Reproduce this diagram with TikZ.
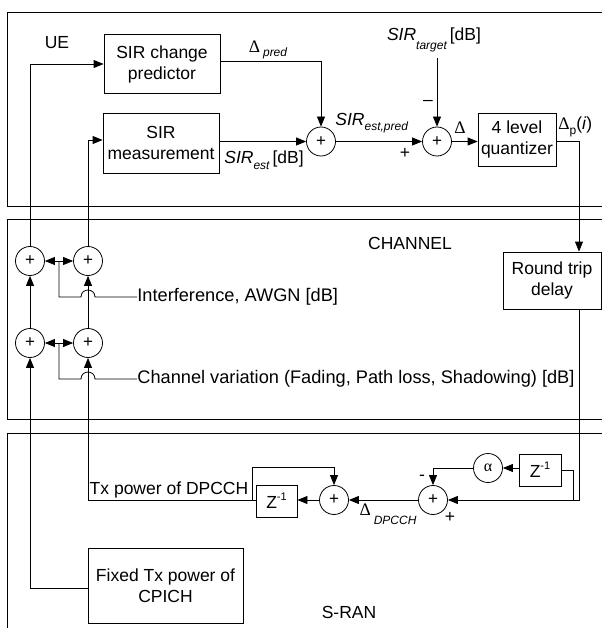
\documentclass[tikz,border=0pt]{standalone}
\usepackage{fontspec}
\setmainfont{Liberation Sans}
\newfontfamily\grk{Liberation Serif}
\usetikzlibrary{arrows.meta}

% lowered italic subscript and raised exponent
\newcommand{\lo}[2][0.45ex]{\raisebox{-#1}{\fontsize{12}{12}\selectfont\itshape #2}}
\newcommand{\hi}[1]{\raisebox{0.85ex}{\fontsize{11}{11}\selectfont #1}}
\newcommand{\Dl}{{\grk Δ}}

\begin{document}
\begin{tikzpicture}[x=1pt,y=-1pt,
  font=\fontsize{17.5}{21}\selectfont,
  line width=0.8pt,
  arr/.style={-{Triangle[length=10pt,width=8pt]}},
  birr/.style={{Triangle[length=10pt,width=8pt]}-{Triangle[length=10pt,width=8pt]}},
  blk/.style={draw, align=center, inner sep=1pt},
  sumr/.style={draw, circle, minimum size=29pt, inner sep=0pt,
    font=\fontsize{17}{17}\selectfont},
  lbl/.style={inner sep=0pt},
  wide/.style={font=\fontsize{18.2}{21}\selectfont}
]
\useasboundingbox (0,0) rectangle (602,628);

% ---- panels ----
\draw (602,12) -- (7,12) -- (7,206) -- (602,206);
\draw (602,219) -- (7,219) -- (7,419) -- (602,419);
\draw (602,433) -- (7,433) -- (7,628);

% ---- UE ----
\node[lbl] (ue) at (57,43) {UE};
\node[blk, minimum width=116pt, minimum height=59pt] (pred) at (162,64) {SIR change\\predictor};
\node[blk, minimum width=116pt, minimum height=60pt] (meas) at (161,143) {SIR\\measurement};
\node[sumr] (s1) at (321,141.5) {+};
\node[sumr] (s2) at (437,141.5) {+};
\node[blk, minimum width=78pt, minimum height=53pt] (quant) at (517,139.5) {4 level\\quantizer};

\node[lbl] (ldpred) at (268,50) {\Dl\,\lo{pred}};
\node[lbl, anchor=west] (lsirest) at (224,160) {\textit{SIR}\lo[0.6ex]{est}\,[dB]};
\node[lbl, anchor=west] (lsirep) at (335,123) {\textit{SIR}\lo[0.6ex]{est,pred}};
\node[lbl] (lplus1) at (405,153) {+};
\node[lbl] (ltarget) at (434,40) {\textit{SIR}\lo[0.9ex]{target}\,[dB]};
\node[lbl] (lminus1) at (428,103) {–};
\node[lbl] (ldelta) at (460,128) {\Dl};
\node[lbl, anchor=west] (ldp) at (558,127) {\Dl\raisebox{-0.5ex}{\fontsize{12}{12}\selectfont p}(\textit{i})};

% ---- CHANNEL ----
\node[lbl] (ch) at (410,243) {CHANNEL};
\node[blk, minimum width=98pt, minimum height=57pt] (rtd) at (552,280.5) {Round trip\\delay};
\node[sumr] (cTL) at (30,261) {+};
\node[sumr] (cTR) at (88,261) {+};
\node[sumr] (cBL) at (30,343) {+};
\node[sumr] (cBR) at (88,343) {+};
\node[lbl, wide, anchor=west] (intf) at (137,297) {Interference, AWGN [dB]};
\node[lbl, wide, anchor=west] (chv) at (137,379) {Channel variation (Fading, Path loss, Shadowing) [dB]};

% ---- S-RAN ----
\node[lbl] (sran) at (349,612) {S-RAN};
\node[blk, minimum width=155pt, minimum height=75pt] (fixed) at (165.5,585.5) {Fixed Tx power of\\CPICH};
\node[blk, minimum width=41pt, minimum height=32pt] (zl) at (276.5,501) {Z\hi{-1}};
\node[blk, minimum width=42pt, minimum height=32pt] (zr) at (540,470) {Z\hi{-1}};
\node[sumr] (acc) at (334,500) {+};
\node[sumr] (d2) at (433,500) {+};
\node[sumr, font=\grk\fontsize{16}{16}\selectfont] (alpha) at (488,468) {α};
\node[lbl] (ltx) at (169,490) {Tx power of DPCCH};
\node[lbl] (lddp) at (388,514) {\Dl\,\lo[1ex]{DPCCH}};
\node[lbl] (lminus2) at (422,478) {-};
\node[lbl] (lplus2) at (450,517) {+};

% ---- routing points ----
\coordinate (tap) at (579,141.5);
\coordinate (br) at (573,500);
\coordinate (jn) at (252,500);
\coordinate (ac) at (334,467);
\coordinate (tx) at (88,500);
\coordinate (cp) at (30,588);
\coordinate (iv) at (59,261);
\coordinate (cv) at (59,343);

% ---- UE connectors ----
\draw[arr] (cTL.north) |- (pred.west);
\draw[arr] (cTR.north) |- ([yshift=3pt]meas.west);
\draw[arr] ([yshift=3pt]pred.east) -| (s1.north);
\draw[arr] (meas.east |- s1.west) -- (s1.west);
\draw[arr] (s1.east) -- (s2.west);
\draw[arr] (ltarget.south -| s2.north) ++(0,6) -- (s2.north);
\draw[arr] (s2.east) -- (quant.west |- s2.east);
\draw[arr] (quant.east |- tap) -- (tap) -- (tap |- rtd.north);

% ---- CHANNEL connectors ----
\draw[arr] (cBL.north) -- (cTL.south);
\draw[arr] (cBR.north) -- (cTR.south);
\draw[birr] (cTL.east) -- (cTR.west);
\draw[birr] (cBL.east) -- (cBR.west);
\draw (iv) -- (59,297) -- (81,297) .. controls (81,287.7) and (95,287.7) .. (95,297) -- (intf.west);
\draw (cv) -- (59,379) -- (81,379) .. controls (81,369.7) and (95,369.7) .. (95,379) -- (chv.west);

% ---- S-RAN connectors ----
\draw[arr] (tap |- rtd.south) -- (tap |- d2.east) -- (d2.east);
\draw (br) -- (br |- zr) -- (zr.east);
\draw[arr] (zr.west |- alpha.east) -- (alpha.east);
\draw[arr] (alpha.west) -| (d2.north);
\draw[arr] (d2.west) -- (acc.east);
\draw[arr] (acc.west) -- (zl.east |- acc.west);
\draw (zl.west |- acc.west) -- (jn);
\draw[arr] (jn) -- (jn |- ac) -- (ac) -- (acc.north);
\draw[arr] (jn) -- (tx) -- (cBR.south);
\draw[arr] (fixed.west |- cp) -- (cp) -- (cBL.south);
\end{tikzpicture}
\end{document}
